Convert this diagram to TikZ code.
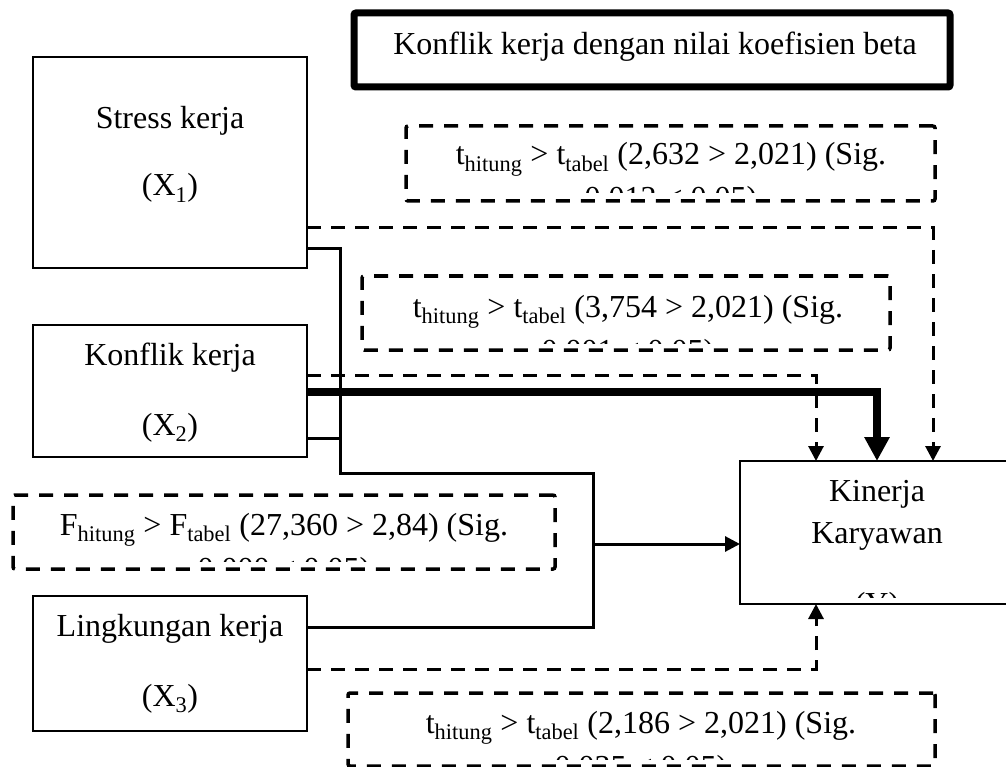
\documentclass[tikz,border=0pt]{standalone}
\usepackage{fontspec}
\setmainfont{Liberation Serif}
\usetikzlibrary{arrows.meta}

\begin{document}
\begin{tikzpicture}[x=1pt,y=-1pt,line join=miter,
    xbox/.style={draw,line width=1.3pt,inner sep=0pt,outer sep=0pt},
    statbox/.style={draw,line width=3.5pt,dash pattern=on 14pt off 11pt,rounded corners=2pt,inner sep=0pt,outer sep=0pt},
    txt/.style={inner sep=0pt,outer sep=0pt,align=center,font=\fontsize{32}{44}\selectfont},
    sline/.style={line width=3pt},
    dline/.style={line width=3pt,dash pattern=on 14pt off 10pt},
    thk/.style={line width=7.5pt},
    arr/.style={-{Triangle[length=15pt,width=15pt]}},
    bigarr/.style={-{Triangle[length=24pt,width=24pt]}}]
      \useasboundingbox (0,0) rectangle (1006,767);
      \clip (0,0) rectangle (1006,767);
      % judul
      \node[xbox,line width=7pt,rounded corners=2pt,minimum width=596pt,minimum height=74pt] (judul) at (652,50) {};
      \node[txt,anchor=base] (judultxt) at (655,55) {Konflik kerja dengan nilai koefisien beta};
      % variabel (anchor base = baris terakhir)
      \node[xbox,minimum width=274pt,minimum height=211pt] (stress) at (170,162.5) {};
      \node[txt,anchor=base] (stresstxt) at (170,196) {Stress kerja\\[23pt](X\textsubscript{1})};
      \node[xbox,minimum width=274pt,minimum height=132pt] (konflik) at (170,391) {};
      \node[txt,anchor=base] (konfliktxt) at (170,435) {Konflik kerja\\[26pt](X\textsubscript{2})};
      \node[xbox,minimum width=274pt,minimum height=135pt] (lingk) at (170,663.5) {};
      \node[txt,anchor=base] (lingktxt) at (170,706) {Lingkungan kerja\\[26pt](X\textsubscript{3})};
      \node[xbox,line width=1.8pt,minimum width=274pt,minimum height=143pt] (kinerja) at (877,532.5) {};
      \begin{scope}
        \clip (kinerja.north west) rectangle ([yshift=7pt]kinerja.south east);
        \node[txt,anchor=base] (kinerjatxt) at (877,614) {Kinerja\\[-2pt]Karyawan\\[27pt](Y)};
      \end{scope}
      % hasil uji
      \node[statbox,minimum width=529pt,minimum height=75pt] (uji1) at (670.5,163.5) {};
      \node[statbox,minimum width=528pt,minimum height=74pt] (uji2) at (626,313) {};
      \node[statbox,minimum width=542pt,minimum height=74pt] (ujif) at (284,532) {};
      \node[statbox,minimum width=587pt,minimum height=73pt] (uji3) at (641.5,729.5) {};
      \begin{scope}
        \clip (uji1.north west) rectangle ([yshift=8pt]uji1.south east);
        \node[txt,anchor=base] (uji1txt) at (671,209) {t\textsubscript{hitung} > t\textsubscript{tabel} (2,632 > 2,021) (Sig.\\0,012 < 0,05)};
      \end{scope}
      \begin{scope}
        \clip (uji2.north west) rectangle ([yshift=7pt]uji2.south east);
        \node[txt,anchor=base] (uji2txt) at (628,361) {t\textsubscript{hitung} > t\textsubscript{tabel} (3,754 > 2,021) (Sig.\\0,001 < 0,05)};
      \end{scope}
      \begin{scope}
        \clip (ujif.north west) rectangle ([yshift=8pt]ujif.south east);
        \node[txt,anchor=base] (ujiftxt) at (284,579) {F\textsubscript{hitung} > F\textsubscript{tabel} (27,360 > 2,84) (Sig.\\0,000 < 0,05)};
      \end{scope}
      \begin{scope}
        \clip (uji3.north west) rectangle ([yshift=7pt]uji3.south east);
        \node[txt,anchor=base] (uji3txt) at (641,777) {t\textsubscript{hitung} > t\textsubscript{tabel} (2,186 > 2,021) (Sig.\\0,035 < 0,05)};
      \end{scope}
      % garis
      \draw[dline,arr] (stress.east |- 0,228) -| ([xshift=56pt]kinerja.north);
      \draw[sline] (stress.east |- 0,249) -| (340,473) -| (593,627) -- (lingk.east |- 0,627);
      \draw[sline] (konflik.east |- 0,438) -- (340,438);
      \draw[dline,arr] (konflik.east |- 0,375) -| ([xshift=-61pt]kinerja.north);
      \draw[thk,bigarr] (konflik.east |- 0,392) -| (kinerja.north);
      \coordinate (gabung) at (593,544);
      \draw[sline,arr] (gabung) -- (kinerja.west |- gabung);
      \draw[dline,arr] (lingk.east |- 0,669) -| ([xshift=-61pt]kinerja.south);
\end{tikzpicture}
\end{document}
